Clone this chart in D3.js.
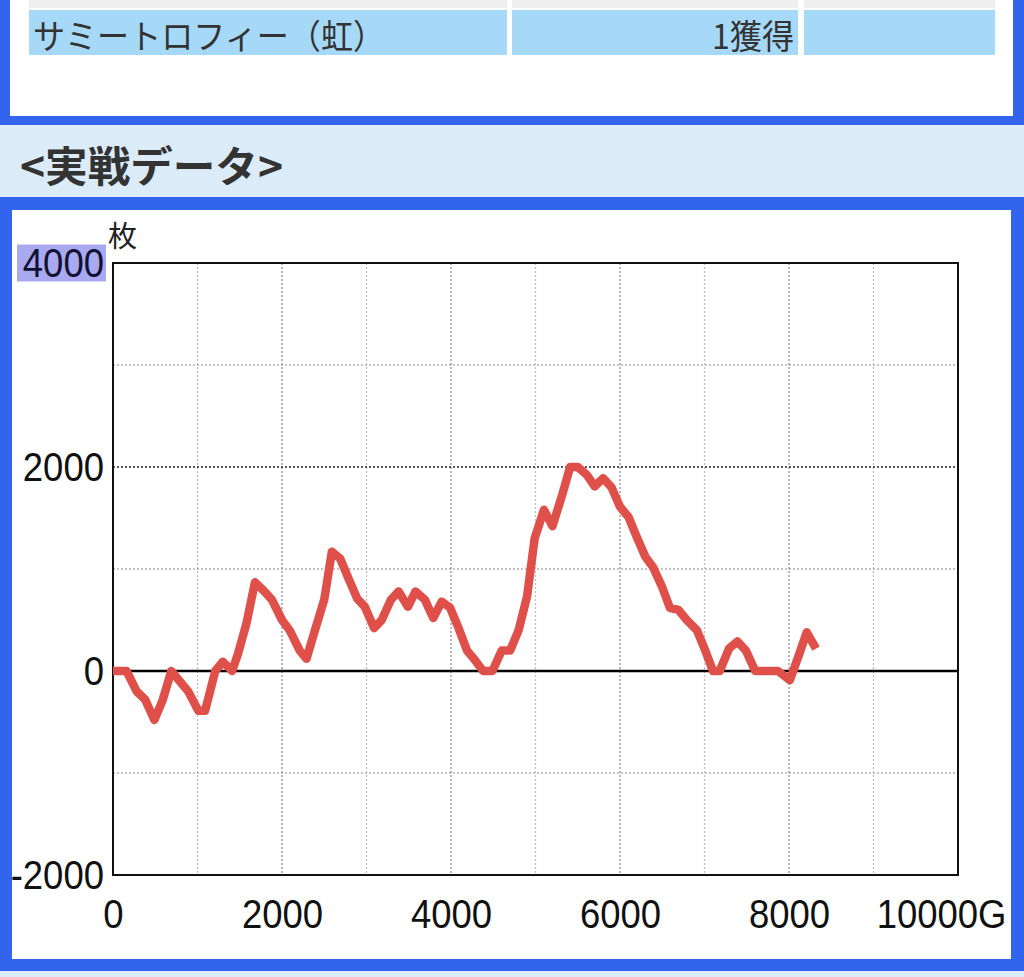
<!DOCTYPE html>
<html><head><meta charset="utf-8">
<script src="https://cdn.jsdelivr.net/npm/d3@7"></script>
<style>html,body{margin:0;padding:0;background:#fff;}svg{display:block;}</style>
</head><body>
<script>
// ---- data ----
const tableRow = ["サミートロフィー（虹）", "1獲得", ""];
const sectionTitle = "<実戦データ>";
const yUnit = "枚";
const xTicks = [0, 2000, 4000, 6000, 8000, 10000];
const xTickLabels = ["0", "2000", "4000", "6000", "8000", "10000G"];
const yTicks = [4000, 2000, 0, -2000];
const yTickLabels = ["4000", "2000", "0", "-2000"];
const games = [0,160,280,380,490,590,690,790,890,1010,1090,1210,1300,1410,1480,1580,1680,1780,1880,2000,2090,2210,2290,2390,2500,2590,2690,2780,2890,2980,3090,3180,3290,3380,3490,3580,3690,3790,3890,3990,4090,4190,4280,4380,4490,4600,4700,4800,4900,4990,5100,5200,5310,5410,5500,5610,5700,5800,5900,6000,6100,6200,6300,6390,6500,6590,6690,6790,6910,7000,7100,7180,7290,7390,7490,7600,7870,8010,8110,8210,8320];
const medals = [0,0,-200,-280,-480,-280,0,-100,-200,-390,-390,0,90,0,170,470,870,790,700,500,400,200,120,400,700,1170,1100,920,710,630,420,500,700,780,630,780,700,520,680,620,420,200,110,0,0,200,200,400,730,1300,1580,1420,1710,2000,2000,1920,1810,1890,1800,1610,1510,1310,1120,1020,820,620,600,500,400,220,0,0,220,290,200,0,0,-90,140,380,220];

// ---- page ----
const W = 1024, H = 977;
const svg = d3.select("body").append("svg").attr("width", W).attr("height", H);
const blue = "#3264ee", band = "#dcebf8";
svg.append("rect").attr("width", W).attr("height", H).attr("fill", blue);
svg.append("rect").attr("x", 10).attr("y", 0).attr("width", 1003).attr("height", 116).attr("fill", "#fff");
svg.append("rect").attr("x", 0).attr("y", 125).attr("width", W).attr("height", 72).attr("fill", band);
svg.append("rect").attr("x", 12).attr("y", 210).attr("width", 999).attr("height", 749).attr("fill", "#fff");
svg.append("rect").attr("x", 0).attr("y", 971).attr("width", W).attr("height", 6).attr("fill", band);

// table row
const cols = [[29, 478], [512, 286], [804, 191]];
cols.forEach(c => {
  svg.append("rect").attr("x", c[0]).attr("y", 0).attr("width", c[1]).attr("height", 8).attr("fill", "#efefef");
  svg.append("rect").attr("x", c[0]).attr("y", 10).attr("width", c[1]).attr("height", 45).attr("fill", "#a6d9f7");
});
const cjk = "'Noto Sans CJK JP', 'Noto Sans', sans-serif";
svg.append("text").attr("x", 33).attr("y", 34).attr("dominant-baseline", "central")
  .attr("font-family", cjk).attr("font-size", 34).attr("fill", "#333")
  .attr("textLength", 352).attr("lengthAdjust", "spacingAndGlyphs").text(tableRow[0]);
svg.append("text").attr("x", 794).attr("y", 34).attr("dominant-baseline", "central").attr("text-anchor", "end")
  .attr("font-family", cjk).attr("font-size", 34).attr("fill", "#333")
  .attr("textLength", 82).attr("lengthAdjust", "spacingAndGlyphs").text(tableRow[1]);

// section title
svg.append("text").attr("x", 20).attr("y", 163).attr("dominant-baseline", "central")
  .attr("font-family", cjk).attr("font-weight", "bold").attr("font-size", 42).attr("fill", "#333")
  .attr("textLength", 263).attr("lengthAdjust", "spacingAndGlyphs").text(sectionTitle);

// ---- chart ----
const L = 113, R = 958, T = 263, B = 875;
const x = d3.scaleLinear().domain([0, 10000]).range([L, R]);
const y = d3.scaleLinear().domain([-2000, 4000]).range([B, T]);

// grid
const g = svg.append("g");
d3.range(1000, 10000, 1000).forEach(v => {
  g.append("line").attr("x1", x(v)).attr("x2", x(v)).attr("y1", T).attr("y2", B)
    .attr("stroke", v % 2000 === 0 ? "#888" : "#bbb").attr("stroke-width", 1.2).attr("stroke-dasharray", "2,2");
});
[3000, 2000, 1000, -1000].forEach(v => {
  g.append("line").attr("x1", L).attr("x2", R).attr("y1", y(v)).attr("y2", y(v))
    .attr("stroke", v === 2000 ? "#222" : "#888").attr("stroke-width", v === 2000 ? 1.6 : 1.2).attr("stroke-dasharray", "2,2");
});
g.append("line").attr("x1", L).attr("x2", R).attr("y1", y(0)).attr("y2", y(0)).attr("stroke", "#000").attr("stroke-width", 2.5);
g.append("rect").attr("x", L).attr("y", T).attr("width", R - L).attr("height", B - T)
  .attr("fill", "none").attr("stroke", "#111").attr("stroke-width", 2);

// line
const pts = games.map((gm, i) => [gm, medals[i]]);
svg.append("path").datum(pts)
  .attr("d", d3.line().x(d => x(d[0])).y(d => y(d[1])))
  .attr("fill", "none").attr("stroke", "#e0504b").attr("stroke-width", 8.5)
  .attr("stroke-linejoin", "round").attr("stroke-linecap", "butt");

// axes (text only)
const tickFont = "'Liberation Sans', Arial, sans-serif";
const xAxis = svg.append("g").attr("transform", `translate(0,${B})`)
  .call(d3.axisBottom(x).tickValues(xTicks).tickFormat((d, i) => xTickLabels[i]).tickSize(0).tickPadding(24));
xAxis.select(".domain").remove();
xAxis.selectAll("text").attr("font-family", tickFont).attr("font-size", 41).attr("fill", "#111")
  .attr("dy", "0.71em")
  .each(function(d, i) { if (i === xTicks.length - 1) d3.select(this).attr("text-anchor", "end").attr("dx", 48); });

const yAxis = svg.append("g").attr("transform", `translate(${L},0)`)
  .call(d3.axisLeft(y).tickValues(yTicks).tickFormat((d, i) => yTickLabels[i]).tickSize(0).tickPadding(9));
yAxis.select(".domain").remove();
yAxis.selectAll(".tick").each(function(d, i) {
  const t = d3.select(this).select("text");
  t.attr("font-family", tickFont).attr("font-size", 41).attr("fill", i === 0 ? "#111133" : "#111");
});

// condense glyphs
svg.selectAll(".tick text").each(function() {
  const n = this.getComputedTextLength();
  d3.select(this).attr("textLength", n * 0.89).attr("lengthAdjust", "spacingAndGlyphs");
});
// highlight behind 4000
yAxis.selectAll(".tick").filter((d, i) => i === 0).each(function() {
  d3.select(this).insert("rect", "text").attr("x", 17 - L).attr("y", -19).attr("width", 89).attr("height", 37)
    .attr("fill", "#a9a9ef");
});

svg.append("text").attr("x", L - 5).attr("y", 234).attr("dominant-baseline", "central")
  .attr("font-family", cjk).attr("font-size", 29).attr("fill", "#222").text(yUnit);
</script>
</body></html>
